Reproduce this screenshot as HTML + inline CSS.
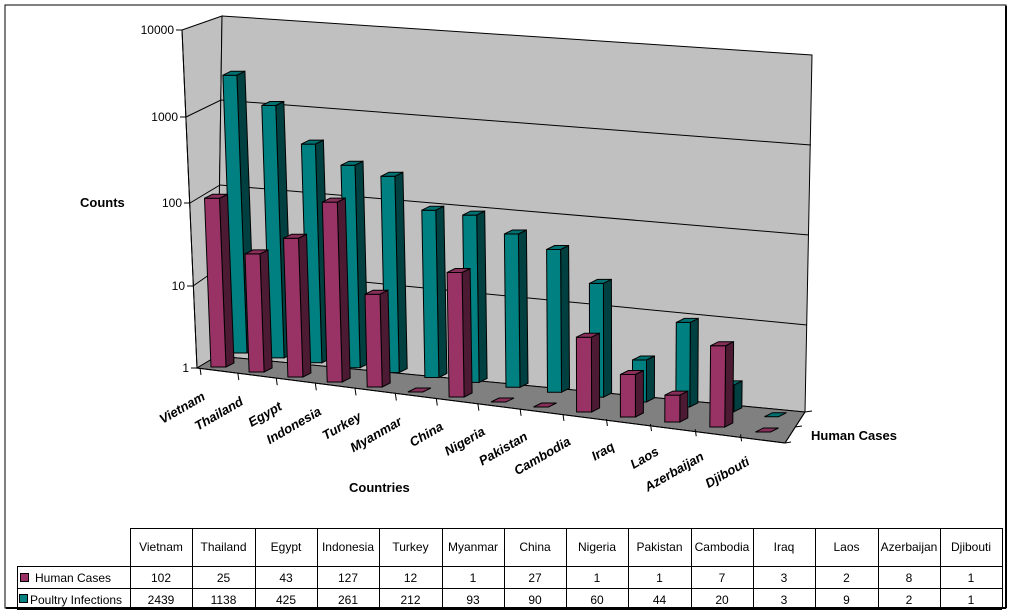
<!DOCTYPE html>
<html><head><meta charset="utf-8"><style>
body{margin:0;background:#fff;width:1011px;height:614px;overflow:hidden;font-family:"Liberation Sans",Arial,sans-serif}
svg{position:absolute;left:0;top:0}
</style></head><body>
<svg id="s" width="1011" height="614" xmlns="http://www.w3.org/2000/svg" font-family="Liberation Sans, Arial, sans-serif">
<rect x="5" y="5" width="1001" height="603" fill="#fff" stroke="#000" stroke-width="1"/>
<line x1="6" y1="608" x2="1006" y2="608" stroke="#000" stroke-width="2"/>
<line x1="1006" y1="6" x2="1006" y2="608" stroke="#000" stroke-width="2"/>
<polygon points="182,30 222,16 217,356 197,368" fill="#c0c0c0" stroke="#000" stroke-width="1"/>
<polygon points="222,16 812,55 805,412 217,356" fill="#c0c0c0" stroke="#000" stroke-width="1"/>
<polygon points="197,368 217,356 805,412 785,443" fill="#808080" stroke="#000" stroke-width="1"/>
<g stroke="#000" stroke-width="1" fill="none">
<polyline points="186,117 221,100 811,145"/>
<polyline points="190,203 220,185 809,235"/>
<polyline points="193,286 219,268 807,325"/>
<line x1="182" y1="30" x2="197" y2="368"/>
<line x1="176" y1="30" x2="182" y2="30"/><line x1="180" y1="117" x2="186" y2="117"/>
<line x1="184" y1="203" x2="190" y2="203"/><line x1="187" y1="286" x2="193" y2="286"/>
<line x1="191" y1="368" x2="197" y2="368"/>
<line x1="197" y1="368" x2="785" y2="443"/>
<line x1="785" y1="443" x2="805" y2="412"/>
<line x1="805" y1="412" x2="812" y2="411"/><line x1="795" y1="427" x2="802" y2="426"/><line x1="785" y1="443" x2="791" y2="442"/>
</g>
<g font-size="12" text-anchor="end">
<text x="174" y="34">10000</text><text x="178" y="121">1000</text><text x="182" y="207">100</text>
<text x="185" y="290">10</text><text x="189" y="372">1</text>
</g>
<text x="80" y="207" font-size="13" font-weight="bold">Counts</text>
<text x="349" y="492" font-size="13" font-weight="bold">Countries</text>
<text x="811" y="440" font-size="13" font-weight="bold">Human Cases</text>
<g id="bars"></g>
<g id="tbl" font-size="12"></g>
</svg>
<script>
var names=["Vietnam","Thailand","Egypt","Indonesia","Turkey","Myanmar","China","Nigeria","Pakistan","Cambodia","Iraq","Laos","Azerbaijan","Djibouti"];
var hum=[102,25,43,127,12,1,27,1,1,7,3,2,8,1];
var pou=[2439,1138,425,261,212,93,90,60,44,20,3,9,2,1];
var g=document.getElementById('bars'),out='';
function box(x,y,w,h,dx,dy,c1,c2,c3){
  var s=(-0.044+0.000106*(x-200))*0.9, lx=s*h;
  if(h<1){h=0;lx=0;}
  var a=[x,y],b=[x+w,y],c=[x+w+lx,y-h],d=[x+lx,y-h];
  function p(arr){return arr.map(function(q){return q[0].toFixed(1)+','+q[1].toFixed(1)}).join(' ')}
  var t=[[c[0]+dx,c[1]+dy],[d[0]+dx,d[1]+dy]];
  var sd=[[b[0]+dx,b[1]+dy]];
  var r='';
  if(h>0){
    r+='<polygon points="'+p([b,sd[0],t[0],c])+'" fill="'+c2+'" stroke="#000" stroke-width="1"/>';
    r+='<polygon points="'+p([a,b,c,d])+'" fill="'+c1+'" stroke="#000" stroke-width="1"/>';
  }
  r+='<polygon points="'+p([d,c,t[0],t[1]])+'" fill="'+c3+'" stroke="#000" stroke-width="1"/>';
  return r;
}
var ticks='';
for(var i=0;i<14;i++){
  var hx=212+37.8*i+0.314*i*i, k=82+0.6*i;
  var px=hx+21-i, py=353+4.9*i;
  out+=box(px,py,14,Math.log10(pou[i])*k,8,-4,'#008080','#004040','#007070');
}
for(var i=0;i<14;i++){
  var hx=212+37.8*i+0.314*i*i, hy=367+5*i, k=84+0.5*i;
  out+=box(hx-1,hy,15,Math.log10(hum[i])*k,8,-4,'#993366','#4d1a33','#88305a');
  var lx=hx-6, ly=hy+32;
  out+='<text x="'+lx+'" y="'+ly+'" font-size="13" font-weight="bold" font-style="italic" text-anchor="end" transform="rotate(-30 '+lx+' '+ly+')">'+names[i]+'</text>';
  var tx=hx-13+ (i>0?-0.3*i:0), ty=367+5.1*i;
  ticks+='<line x1="'+(tx+1)+'" y1="'+(ty+1)+'" x2="'+(tx+2)+'" y2="'+(ty+8)+'" stroke="#000"/>';
}
g.innerHTML=out+ticks;
var t='',cx=[130];for(var i=1;i<=14;i++)cx.push(Math.round(130+i*62.3));
t+='<g stroke="#000" stroke-width="1" fill="none">';
t+='<rect x="130.5" y="528.5" width="'+(1002-130)+'" height="80"/>';
t+='<rect x="17.5" y="566.5" width="113" height="42"/>';
t+='<line x1="17" y1="588.5" x2="1002" y2="588.5"/><line x1="130" y1="566.5" x2="1002" y2="566.5"/>';
for(var i=1;i<14;i++)t+='<line x1="'+(cx[i]+.5)+'" y1="528" x2="'+(cx[i]+.5)+'" y2="609"/>';
t+='</g><line x1="17" y1="609" x2="1002" y2="609" stroke="#000" stroke-width="2"/>';
for(var i=0;i<14;i++){var m=(cx[i]+cx[i+1])/2;
 t+='<text x="'+m+'" y="551" text-anchor="middle">'+names[i]+'</text>';
 t+='<text x="'+m+'" y="582" text-anchor="middle">'+hum[i]+'</text>';
 t+='<text x="'+m+'" y="604" text-anchor="middle">'+pou[i]+'</text>';}
t+='<rect x="20.5" y="573.5" width="8" height="8" fill="#993366" stroke="#000"/><text x="35" y="582">Human Cases</text>';
t+='<rect x="19.5" y="594.5" width="8" height="8" fill="#008080" stroke="#000"/><text x="30" y="604">Poultry Infections</text>';
document.getElementById('tbl').innerHTML=t;
</script>
</body></html>
